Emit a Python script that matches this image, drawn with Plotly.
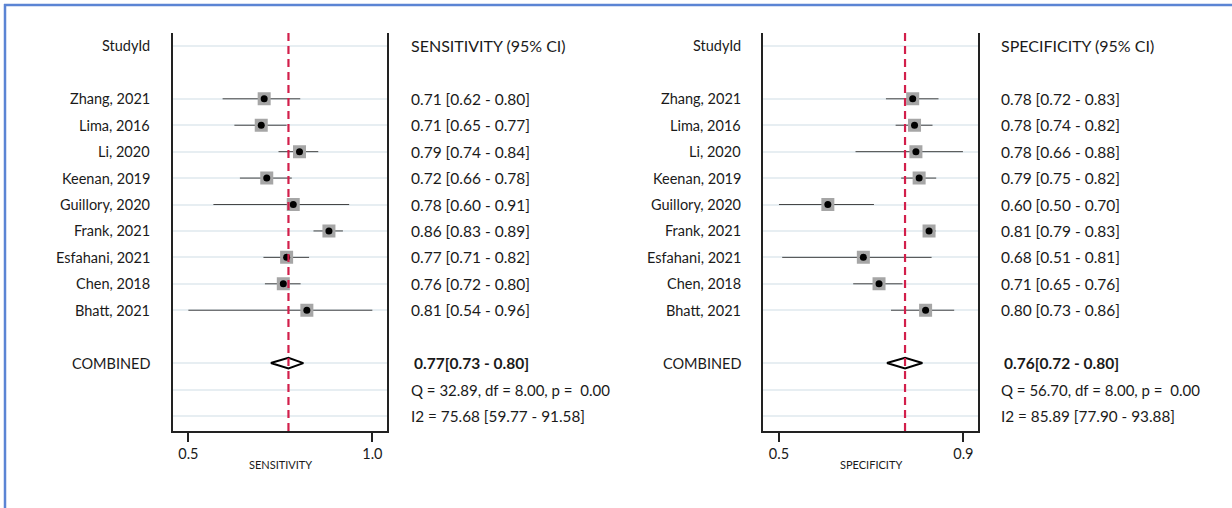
import plotly.graph_objects as go

W, H = 1232, 508

studies = ["Zhang, 2021", "Lima, 2016", "Li, 2020", "Keenan, 2019", "Guillory, 2020",
           "Frank, 2021", "Esfahani, 2021", "Chen, 2018", "Bhatt, 2021"]

sens_pt = [0.706, 0.698, 0.802, 0.713, 0.785, 0.882, 0.767, 0.758, 0.822]
sens_lo = [0.593, 0.625, 0.745, 0.640, 0.568, 0.840, 0.704, 0.708, 0.500]
sens_hi = [0.804, 0.767, 0.853, 0.781, 0.937, 0.920, 0.828, 0.805, 1.000]
sens_pool = 0.772
sens_pool_lo = 0.724
sens_pool_hi = 0.8125
sens_labels = ["0.71 [0.62 - 0.80]", "0.71 [0.65 - 0.77]", "0.79 [0.74 - 0.84]",
               "0.72 [0.66 - 0.78]", "0.78 [0.60 - 0.91]", "0.86 [0.83 - 0.89]",
               "0.77 [0.71 - 0.82]", "0.76 [0.72 - 0.80]", "0.81 [0.54 - 0.96]"]
sens_pool_label = "0.77[0.73 - 0.80]"
sens_q = "Q = 32.89, df = 8.00, p =  0.00"
sens_i2 = "I2 = 75.68 [59.77 - 91.58]"
sens_ticks = [0.5, 1.0]
sens_ticktext = ["0.5", "1.0"]

# Specificity
spec_pt = [0.790, 0.794, 0.797, 0.804, 0.606, 0.8255, 0.683, 0.717, 0.818]
spec_lo = [0.732, 0.753, 0.666, 0.765, 0.500, 0.817, 0.507, 0.661, 0.743]
spec_hi = [0.846, 0.833, 0.899, 0.841, 0.706, 0.840, 0.831, 0.768, 0.880]
spec_pool = 0.7734
spec_pool_lo = 0.734
spec_pool_hi = 0.811
spec_labels = ["0.78 [0.72 - 0.83]", "0.78 [0.74 - 0.82]", "0.78 [0.66 - 0.88]",
               "0.79 [0.75 - 0.82]", "0.60 [0.50 - 0.70]", "0.81 [0.79 - 0.83]",
               "0.68 [0.51 - 0.81]", "0.71 [0.65 - 0.76]", "0.80 [0.73 - 0.86]"]
spec_pool_label = "0.76[0.72 - 0.80]"
spec_q = "Q = 56.70, df = 8.00, p =  0.00"
spec_i2 = "I2 = 85.89 [77.90 - 93.88]"
spec_ticks = [0.5, 0.9]
spec_ticktext = ["0.5", "0.9"]

FONT = "Lato, 'Open Sans', sans-serif"
TXT = "#1a1a1a"
RED = "#d21f4b"
FS_LAB = 14.5
FS_VAL = 15.5

# row layout
header_row = 0
study_rows = list(range(2, 2 + len(studies)))
pool_row = 12
q_row = 13
i2_row = 14
grid_rows = [header_row] + study_rows + [pool_row, q_row, i2_row]

fig = go.Figure()

panels = [
    dict(xa="x", ya="y", pt=sens_pt, lo=sens_lo, hi=sens_hi, pool=sens_pool,
         plo=sens_pool_lo, phi=sens_pool_hi, labels=sens_labels, plabel=sens_pool_label,
         q=sens_q, i2=sens_i2, head="SENSITIVITY (95% CI)", title="SENSITIVITY",
         dom=[173.3, 386.7], lab_x=152, val_x=409, range=[0.459, 1.039],
         ticks=sens_ticks, ticktext=sens_ticktext),
    dict(xa="x2", ya="y2", pt=spec_pt, lo=spec_lo, hi=spec_hi, pool=spec_pool,
         plo=spec_pool_lo, phi=spec_pool_hi, labels=spec_labels, plabel=spec_pool_label,
         q=spec_q, i2=spec_i2, head="SPECIFICITY (95% CI)", title="SPECIFICITY",
         dom=[763.3, 977.7], lab_x=742.7, val_x=999, range=[0.466, 0.931],
         ticks=spec_ticks, ticktext=spec_ticktext),
]

annotations = []
shapes = []
ydom = [(H - 431) / H, (H - 33) / H]
yrange = [14.57, -0.49]


def txt(x, y, yref, text, anchor, size):
    return dict(x=x, y=y, xref="paper", yref=yref, text=text, xanchor=anchor,
                showarrow=False, font=dict(family=FONT, size=size, color=TXT))


for i, p in enumerate(panels):
    xa, ya = p["xa"], p["ya"]
    fig.add_trace(go.Scatter(
        x=p["pt"], y=study_rows, mode="markers", xaxis=xa, yaxis=ya,
        marker=dict(symbol="square", size=13, color="#a6a6a6", line=dict(width=0)),
        error_x=dict(type="data", symmetric=False,
                     array=[h - m for h, m in zip(p["hi"], p["pt"])],
                     arrayminus=[m - l for m, l in zip(p["pt"], p["lo"])],
                     width=0, thickness=1, color="#444444"),
        showlegend=False, hoverinfo="skip"))
    fig.add_trace(go.Scatter(
        x=p["pt"], y=study_rows, mode="markers", xaxis=xa, yaxis=ya,
        marker=dict(symbol="circle", size=7, color="black", line=dict(width=0)),
        showlegend=False, hoverinfo="skip"))
    h = 0.2
    fig.add_trace(go.Scatter(
        x=[p["plo"], p["pool"], p["phi"], p["pool"], p["plo"]],
        y=[pool_row, pool_row - h, pool_row, pool_row + h, pool_row],
        mode="lines", fill="toself", fillcolor="white",
        line=dict(color="black", width=2), xaxis=xa, yaxis=ya,
        showlegend=False, hoverinfo="skip"))
    shapes.append(dict(type="line", xref=xa, yref=f"{ya} domain", x0=p["pool"], x1=p["pool"],
                       y0=0, y1=1, line=dict(color=RED, width=2.2, dash="8px,5px"), layer="above"))
    lx = p["lab_x"] / W
    vx = p["val_x"] / W
    annotations.append(txt(lx, header_row, ya, "StudyId", "right", FS_LAB))
    annotations.append(txt(vx, header_row, ya, p["head"], "left", 16))
    for r, s, v in zip(study_rows, studies, p["labels"]):
        annotations.append(txt(lx, r, ya, s, "right", FS_LAB))
        annotations.append(txt(vx, r, ya, v, "left", FS_VAL))
    annotations.append(txt(lx, pool_row, ya, "COMBINED", "right", FS_LAB))
    annotations.append(txt(vx + 3 / W, pool_row, ya, f"<b>{p['plabel']}</b>", "left", FS_VAL))
    annotations.append(txt(vx, q_row, ya, p["q"], "left", 15))
    annotations.append(txt(vx, i2_row, ya, p["i2"], "left", 15.3))
    annotations.append(dict(x=0.5, y=(H - 464) / H, xref=f"{xa} domain", yref="paper",
                            text=p["title"], showarrow=False, yanchor="middle",
                            font=dict(family=FONT, size=11, color=TXT)))

    xkey = "xaxis" if i == 0 else "xaxis2"
    ykey = "yaxis" if i == 0 else "yaxis2"
    fig.update_layout(**{
        xkey: dict(domain=[p["dom"][0] / W, p["dom"][1] / W], range=p["range"],
                   anchor=ya, tickvals=p["ticks"], ticktext=p["ticktext"],
                   ticks="outside", ticklen=9, tickwidth=1.5, tickcolor="#222",
                   showline=True, linecolor="#222", linewidth=1.5, mirror=False,
                   showgrid=False, zeroline=False, fixedrange=True,
                   tickfont=dict(family=FONT, size=14.5, color=TXT)),
        ykey: dict(domain=ydom, range=yrange, anchor=xa, tickvals=grid_rows,
                   showticklabels=False, ticks="", showgrid=True, gridcolor="#e7eef2",
                   gridwidth=2, showline=True, mirror=True, linecolor="#222",
                   linewidth=1.5, zeroline=False, fixedrange=True),
    })

shapes.append(dict(type="line", xref="paper", yref="paper", x0=4 / W, x1=1, y0=1 - 5 / H, y1=1 - 5 / H,
                   line=dict(color="#5b84d4", width=2.5)))
shapes.append(dict(type="line", xref="paper", yref="paper", x0=5 / W, x1=5 / W, y0=0, y1=1 - 4 / H,
                   line=dict(color="#5b84d4", width=2.5)))

fig.update_layout(width=W, height=H, margin=dict(l=0, r=0, t=0, b=0),
                  paper_bgcolor="white", plot_bgcolor="white",
                  annotations=annotations, shapes=shapes, showlegend=False,
                  font=dict(family=FONT, color=TXT))

fig.write_html("out.html", config={"displayModeBar": False},
               post_script="document.body.style.margin='0px';document.body.style.overflow='hidden';")
